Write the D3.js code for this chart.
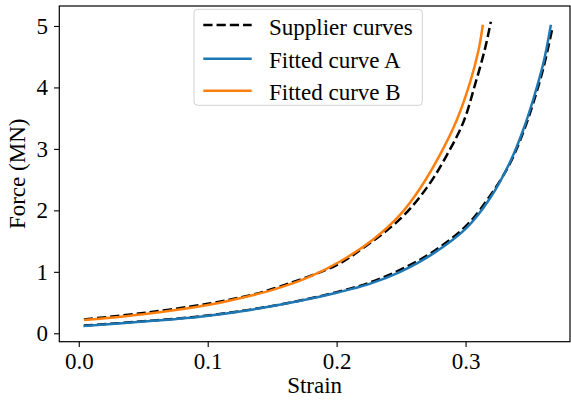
<!DOCTYPE html>
<html>
<head>
<meta charset="utf-8">
<script src="https://cdn.jsdelivr.net/npm/d3@7"></script>
<style>
  html, body { margin: 0; padding: 0; background: #fff; }
  svg { display: block; }
  text { font-family: "Liberation Serif", "Times New Roman", serif; fill: #000; }
</style>
</head>
<body>
<svg id="chart" width="571" height="400"></svg>
<script>
// Strain / force pairs (force in MN)
const supplierA = [
  [0.004, 0.125], [0.05, 0.195], [0.094, 0.275], [0.133, 0.385], [0.17, 0.525],
  [0.20, 0.67], [0.225, 0.82], [0.25, 1.04], [0.2751, 1.33], [0.3010, 1.76],
  [0.3191, 2.24], [0.3346, 2.77], [0.3449, 3.28], [0.3527, 3.76], [0.3604, 4.32],
  [0.367, 4.93]
];
const supplierB = [
  [0.004, 0.225], [0.05, 0.33], [0.10, 0.48], [0.133, 0.62], [0.15, 0.72],
  [0.20, 1.11], [0.22, 1.38], [0.2493, 1.86], [0.270, 2.37], [0.2855, 2.90],
  [0.2984, 3.44], [0.3074, 4.05], [0.3152, 4.64], [0.3196, 5.07]
];
const fittedA = [
  [0.0036, 0.12], [0.05, 0.19], [0.094, 0.27], [0.133, 0.38], [0.17, 0.52],
  [0.20, 0.66], [0.225, 0.80], [0.2493, 1.00], [0.2751, 1.30], [0.3010, 1.72],
  [0.3191, 2.20], [0.3346, 2.79], [0.3449, 3.32], [0.3527, 3.82], [0.3604, 4.40],
  [0.3662, 5.02]
];
const fittedB = [
  [0.004, 0.215], [0.05, 0.31], [0.10, 0.46], [0.125, 0.57], [0.151, 0.71],
  [0.177, 0.90], [0.2027, 1.168], [0.2286, 1.53], [0.2493, 1.93], [0.2648, 2.36],
  [0.2803, 2.91], [0.2932, 3.47], [0.3036, 4.09], [0.31, 4.60], [0.3134, 5.02]
];
const xTicks = [0.0, 0.1, 0.2, 0.3];
const yTicks = [0, 1, 2, 3, 4, 5];
const legendLabels = ["Supplier curves", "Fitted curve A", "Fitted curve B"];

const svg = d3.select("#chart");
const plotL = 59.3, plotR = 570, plotT = 6, plotB = 341.7;

const x = d3.scaleLinear().domain([-0.0151, 0.381]).range([plotL, plotR]);
const y = d3.scaleLinear().domain([-0.137, 5.325]).range([plotB, plotT]);

const lw = 2.5;
const dash = `${3.7 * lw},${1.6 * lw}`;
const colA = "#1f77b4", colB = "#ff7f0e";

const line = d3.line().x(d => x(d[0])).y(d => y(d[1])).curve(d3.curveCatmullRom.alpha(0.5));

svg.append("defs").append("clipPath").attr("id", "plotclip")
  .append("rect").attr("x", plotL).attr("y", plotT)
  .attr("width", plotR - plotL).attr("height", plotB - plotT);

const plot = svg.append("g").attr("clip-path", "url(#plotclip)");

[supplierA, supplierB].forEach(s => {
  plot.append("path").datum(s).attr("d", line)
    .attr("fill", "none").attr("stroke", "#000")
    .attr("stroke-width", lw).attr("stroke-dasharray", dash);
});
plot.append("path").datum(fittedA).attr("d", line)
  .attr("fill", "none").attr("stroke", colA).attr("stroke-width", lw);
plot.append("path").datum(fittedB).attr("d", line)
  .attr("fill", "none").attr("stroke", colB).attr("stroke-width", lw);

// Axes
const fontSize = 23;
const xAxis = svg.append("g").attr("transform", `translate(0,${plotB})`)
  .call(d3.axisBottom(x).tickValues(xTicks).tickFormat(d3.format(".1f"))
    .tickSize(5.3).tickPadding(6).tickSizeOuter(0));
const yAxis = svg.append("g").attr("transform", `translate(${plotL},0)`)
  .call(d3.axisLeft(y).tickValues(yTicks).tickFormat(d3.format("d"))
    .tickSize(5.3).tickPadding(6).tickSizeOuter(0));
[xAxis, yAxis].forEach(a => {
  a.select(".domain").remove();
  a.selectAll(".tick line").attr("stroke", "#000").attr("stroke-width", 1.1);
  a.selectAll(".tick text").attr("font-size", fontSize)
    .style("font-family", "'Liberation Serif', 'Times New Roman', serif");
});

// Frame
svg.append("rect").attr("x", plotL).attr("y", plotT)
  .attr("width", plotR - plotL).attr("height", plotB - plotT)
  .attr("fill", "none").attr("stroke", "#000").attr("stroke-width", 1.2);

// Axis labels
svg.append("text").attr("x", (plotL + plotR) / 2).attr("y", 393)
  .attr("text-anchor", "middle").attr("font-size", fontSize).text("Strain");
svg.append("text")
  .attr("transform", `translate(25,${(plotT + plotB) / 2}) rotate(-90)`)
  .attr("text-anchor", "middle").attr("font-size", fontSize).text("Force (MN)");

// Legend
const leg = svg.append("g");
leg.append("rect").attr("x", 194).attr("y", 9.3).attr("width", 228.3).attr("height", 96)
  .attr("rx", 3.5).attr("fill", "#fff").attr("fill-opacity", 0.8)
  .attr("stroke", "#d0d0d0").attr("stroke-width", 1);
const rows = [
  { stroke: "#000", dash: dash },
  { stroke: colA, dash: null },
  { stroke: colB, dash: null }
];
const rowY = [25, 58.7, 90.7];
rows.forEach((r, i) => {
  leg.append("line").attr("x1", 203.3).attr("x2", 251.7)
    .attr("y1", rowY[i]).attr("y2", rowY[i])
    .attr("stroke", r.stroke).attr("stroke-width", lw)
    .attr("stroke-dasharray", r.dash);
  leg.append("text").attr("x", 269).attr("y", rowY[i] + 9.5)
    .attr("font-size", fontSize).text(legendLabels[i]);
});
</script>
</body>
</html>
